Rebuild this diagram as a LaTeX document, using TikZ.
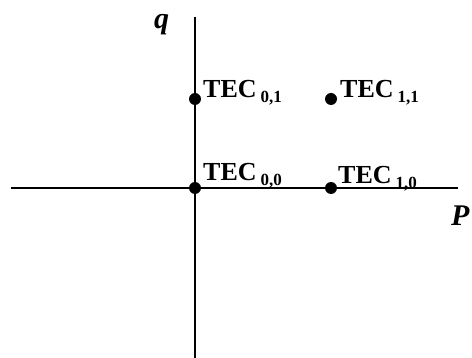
\documentclass[tikz,border=0pt]{standalone}
\usepackage{fontspec}
\setmainfont{Liberation Serif}
\begin{document}
\begin{tikzpicture}[x=1pt,y=-1pt,
  axis/.style={line width=1.6pt},
  pt/.style={circle,fill=black,inner sep=0pt,minimum size=12pt},
  tec/.style={anchor=base west,inner sep=0pt,font=\fontsize{26}{26}\selectfont\bfseries},
  axlabel/.style={anchor=base west,inner sep=0pt,font=\fontsize{30}{30}\selectfont\bfseries\itshape}]
\useasboundingbox (0,0) rectangle (472,358);
% axes
\coordinate (xl) at (11,188);
\coordinate (xr) at (458,188);
\coordinate (yt) at (195,17);
\coordinate (yb) at (195,358);
\draw[axis] (xl) -- (xr);
\draw[axis] (yt) -- (yb);
\node[axlabel] (q) at (154,29) {q};
\node[axlabel] (p) at (451,226) {P};
% states
\node[pt] (t01) at (195,99) {};
\node[pt] (t11) at (331,99) {};
\node[pt] (t00) at (195,188) {};
\node[pt] (t10) at (331,188) {};
\newcommand{\tecsub}[1]{TEC\hspace{4pt}\raisebox{-5pt}{\fontsize{17}{17}\selectfont #1}}
\node[tec] (l01) at (203,98) {\tecsub{0,1}};
\node[tec] (l11) at (340,98) {\tecsub{1,1}};
\node[tec] (l00) at (203,181) {\tecsub{0,0}};
\node[tec] (l10) at (338,184) {\tecsub{1,0}};
\end{tikzpicture}
\end{document}
